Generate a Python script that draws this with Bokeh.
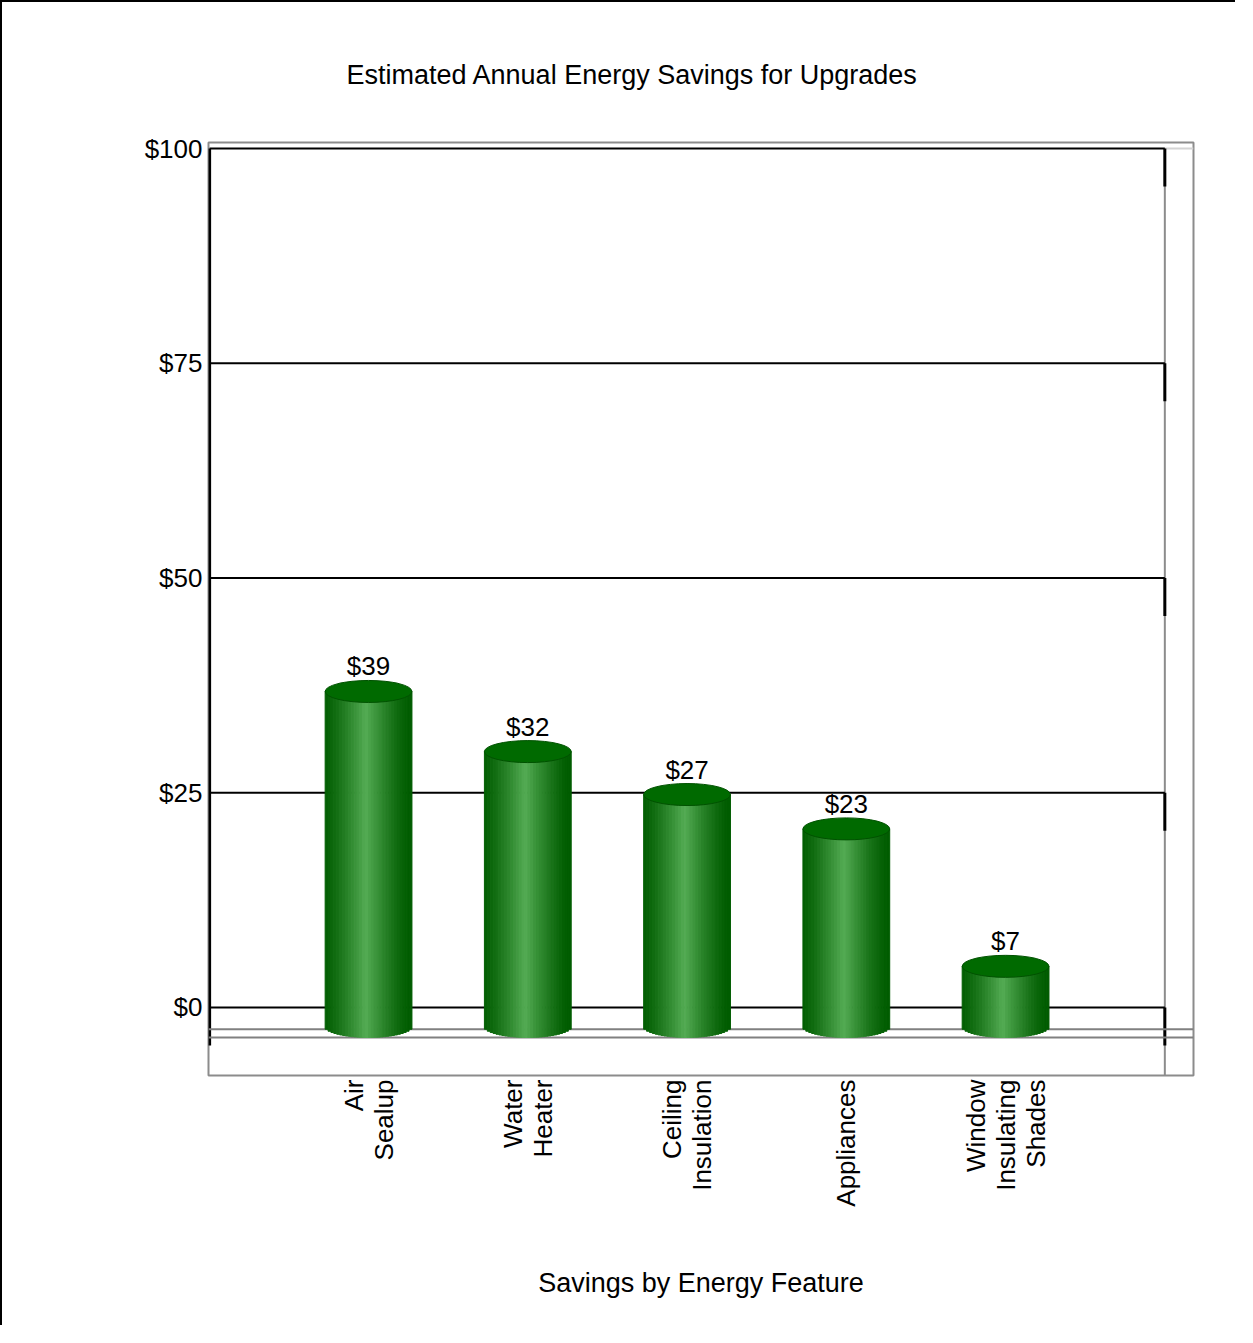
import math
from bokeh.plotting import figure
from bokeh.models import Range1d, ColumnDataSource, FixedTicker
from bokeh.core.properties import value
from bokeh.embed import file_html
from bokeh.resources import INLINE

# ---- data ----
categories = ["Air\nSealup", "Water\nHeater", "Ceiling\nInsulation", "Appliances",
              "Window\nInsulating\nShades"]
savings = [39, 32, 27, 23, 7]
savings_labels = ["$39", "$32", "$27", "$23", "$7"]
y_ticks = [0, 25, 50, 75, 100]
y_tick_labels = ["$0", "$25", "$50", "$75", "$100"]
title_text = "Estimated Annual Energy Savings for Upgrades"
x_title = "Savings by Energy Feature"

# ---- style constants ----
FONT = "Liberation Sans"
FS = "26px"
FS_T = "27px"
DEPTH = 2.21        # front-plane offset (3D look), in value units
WALL_DEPTH = 4.42
BAR_W = 0.545
ELL_H = 2.56
WALL_L, WALL_R = -0.998, 5.0
NSTRIP = 30

p = figure(width=1235, height=1325,
           x_range=Range1d(-1.005, 5.180), y_range=Range1d(-7.92, 100.70),
           output_backend="svg", toolbar_location=None,
           min_border_left=206, min_border_right=44,
           min_border_top=140, min_border_bottom=252)
p.styles = {"border-top": "2px solid black", "border-left": "2px solid black"}
p.background_fill_color = "white"
p.border_fill_color = "white"
p.outline_line_color = "#8c8c8c"
p.outline_line_width = 2
p.grid.visible = False

xax = p.below[0]
yax = p.left[0]

# title
p.title.text = title_text
p.title.align = "left"
p.title.offset = 138
p.title.standoff = 106
p.title.text_font = FONT
p.title.text_font_size = FS_T
p.title.text_font_style = "normal"
p.title.text_color = "black"

# y axis
yax.ticker = FixedTicker(ticks=y_ticks)
yax.major_label_overrides = {t: l for t, l in zip(y_ticks, y_tick_labels)}
yax.axis_line_color = None
yax.major_tick_line_color = None
yax.minor_tick_line_color = None
yax.major_label_standoff = 0
yax.major_label_text_font = FONT
yax.major_label_text_font_size = FS
yax.major_label_text_color = "black"

# x axis
xs = list(range(len(categories)))
xax.ticker = FixedTicker(ticks=xs)
xax.major_label_overrides = {i: c for i, c in zip(xs, categories)}
xax.major_label_orientation = math.pi / 2
xax.major_label_text_line_height = 1.0
xax.axis_line_color = None
xax.major_tick_line_color = None
xax.minor_tick_line_color = None
xax.major_label_standoff = -2
xax.major_label_text_font = FONT
xax.major_label_text_font_size = FS
xax.major_label_text_color = "black"
xax.axis_label = x_title
xax.axis_label_text_font = FONT
xax.axis_label_text_font_size = FS_T
xax.axis_label_text_font_style = "normal"
xax.axis_label_text_color = "black"
xax.axis_label_standoff = 58

# ---- back wall ----
ymin = p.y_range.start
xmax = p.x_range.end
p.segment(x0=[WALL_R], x1=[WALL_R], y0=[100], y1=[ymin], line_color="#8c8c8c", line_width=2)
p.segment(x0=[WALL_R], x1=[xmax], y0=[100], y1=[100], line_color="#d4d4d4", line_width=2)
p.segment(x0=[WALL_L] * len(y_ticks), x1=[WALL_R] * len(y_ticks), y0=y_ticks, y1=y_ticks,
          line_color="black", line_width=2)
p.segment(x0=[WALL_R] * len(y_ticks), x1=[WALL_R] * len(y_ticks), y0=y_ticks,
          y1=[t - WALL_DEPTH for t in y_ticks], line_color="black", line_width=3)
p.segment(x0=[WALL_L], x1=[WALL_L], y0=[max(y_ticks)], y1=[min(y_ticks) - WALL_DEPTH],
          line_color="black", line_width=3)
# floor lines
floor = [-(ELL_H / 2) * 0.25 - DEPTH, -(ELL_H / 2) * 1.0 - DEPTH]
p.segment(x0=[p.x_range.start] * 2, x1=[xmax] * 2, y0=floor, y1=floor,
          line_color="#808080", line_width=2)

# ---- cylinders ----
dark = (0, 92, 0)
light = (84, 172, 84)


def mix(t):
    r = [int(round(d + (l - d) * t)) for d, l in zip(dark, light)]
    return "#%02x%02x%02x" % tuple(r)


L, R, T, B, C = [], [], [], [], []
for xi, v in zip(xs, savings):
    top = v - DEPTH
    for j in range(NSTRIP):
        u0 = -1 + 2 * j / NSTRIP
        u1 = -1 + 2 * (j + 1) / NSTRIP
        uc = (u0 + u1) / 2
        L.append(xi + u0 * BAR_W / 2)
        R.append(xi + u1 * BAR_W / 2)
        T.append(top)
        B.append(-DEPTH - (ELL_H / 2) * math.sqrt(max(0.0, 1 - uc * uc)))
        t = max(0.0, 1 - abs(uc + 0.05)) ** 1.3
        C.append(mix(t))
strips = ColumnDataSource(dict(left=L, right=R, top=T, bottom=B, color=C))
p.quad(left="left", right="right", top="top", bottom="bottom", source=strips,
       fill_color="color", line_color="color", line_width=1)

tops = [v - DEPTH for v in savings]
bars = ColumnDataSource(dict(x=xs, y=tops, lab=savings_labels))
p.ellipse(x="x", y="y", width=BAR_W, height=ELL_H, source=bars,
          fill_color="#006a00", line_color="#005200", line_width=1)
p.text(x="x", y="y", text="lab", source=bars, y_offset=-10,
       text_align="center", text_baseline="bottom",
       text_font=value(FONT), text_font_size=FS, text_color="black")

open("out.html", "w").write(file_html(p, INLINE))
